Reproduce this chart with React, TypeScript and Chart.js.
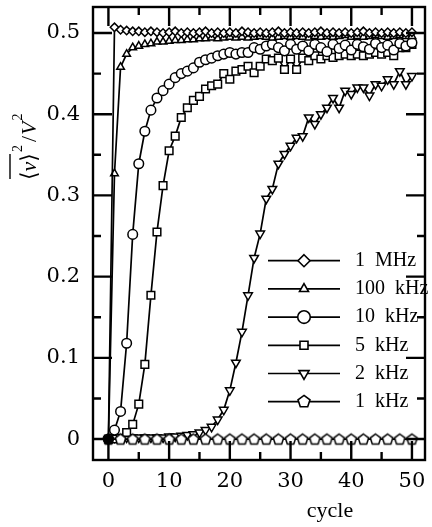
import React, { useEffect, useRef } from "react";
import { Chart, registerables } from "chart.js";

Chart.register(...registerables);

// Cycle index for the 1 MHz … 2 kHz runs (one sample per cycle)
const CYCLES = [
  0, 1, 2, 3, 4, 5, 6, 7, 8, 9,
  10, 11, 12, 13, 14, 15, 16, 17, 18, 19,
  20, 21, 22, 23, 24, 25, 26, 27, 28, 29,
  30, 31, 32, 33, 34, 35, 36, 37, 38, 39,
  40, 41, 42, 43, 44, 45, 46, 47, 48, 49,
  50,
];
// The 1 kHz run is sampled every second cycle
const KHZ1_CYCLES = [0, 2, 4, 6, 8, 10, 12, 14, 16, 18, 20, 22, 24, 26, 28, 30, 32, 34, 36, 38, 40, 42, 44, 46, 48, 50];

const MHZ1 = [
  0, 0.507, 0.504, 0.503, 0.502, 0.502, 0.501, 0.502, 0.501, 0.5,
  0.501, 0.502, 0.5, 0.501, 0.5, 0.501, 0.502, 0.5, 0.501, 0.5,
  0.501, 0.5, 0.502, 0.501, 0.5, 0.501, 0.5, 0.501, 0.502, 0.5,
  0.501, 0.5, 0.501, 0.5, 0.501, 0.502, 0.5, 0.501, 0.5, 0.501,
  0.5, 0.501, 0.502, 0.5, 0.501, 0.5, 0.501, 0.5, 0.501, 0.5,
  0.501,
];
const KHZ100 = [
  0, 0.327, 0.458, 0.474, 0.482, 0.484, 0.486, 0.487, 0.489, 0.489,
  0.49, 0.491, 0.491, 0.492, 0.492, 0.493, 0.493, 0.494, 0.493, 0.494,
  0.495, 0.494, 0.495, 0.494, 0.495, 0.496, 0.495, 0.494, 0.495, 0.496,
  0.495, 0.496, 0.495, 0.494, 0.496, 0.495, 0.496, 0.495, 0.496, 0.497,
  0.495, 0.496, 0.495, 0.496, 0.497, 0.496, 0.495, 0.496, 0.497, 0.496,
  0.496,
];
const KHZ10 = [
  0, 0.011, 0.034, 0.118, 0.252, 0.339, 0.379, 0.405, 0.42, 0.429,
  0.437, 0.445, 0.45, 0.453, 0.457, 0.464, 0.467, 0.469, 0.472, 0.474,
  0.476, 0.474, 0.476, 0.476, 0.482, 0.48, 0.484, 0.486, 0.482, 0.478,
  0.486, 0.48, 0.484, 0.478, 0.486, 0.482, 0.477, 0.486, 0.481, 0.485,
  0.479, 0.486, 0.483, 0.48, 0.487, 0.482, 0.485, 0.479, 0.487, 0.484,
  0.488,
];
const KHZ5 = [
  0, 0, 0.001, 0.008, 0.018, 0.043, 0.092, 0.177, 0.255, 0.312,
  0.355, 0.373, 0.396, 0.408, 0.417, 0.422, 0.431, 0.435, 0.437, 0.45,
  0.443, 0.453, 0.455, 0.459, 0.451, 0.459, 0.468, 0.466, 0.469, 0.455,
  0.468, 0.455, 0.469, 0.466, 0.472, 0.468, 0.472, 0.47, 0.472, 0.474,
  0.472, 0.474, 0.472, 0.474, 0.476, 0.474, 0.476, 0.472, 0.482, 0.482,
  0.486,
];
const KHZ2 = [
  0, 0.002, 0.002, 0.002, 0.002, 0.002, 0.002, 0.002, 0.002, 0.002,
  0.003, 0.003, 0.004, 0.005, 0.006, 0.008, 0.011, 0.015, 0.024, 0.036,
  0.06, 0.094, 0.132, 0.177, 0.223, 0.253, 0.296, 0.308, 0.339, 0.351,
  0.361, 0.371, 0.373, 0.396, 0.388, 0.4, 0.408, 0.42, 0.408, 0.429,
  0.425, 0.433, 0.433, 0.423, 0.437, 0.435, 0.443, 0.437, 0.453, 0.437,
  0.447,
];
const KHZ1 = [0, 0, 0, 0, 0, 0, 0, 0, 0, 0, 0, 0, 0, 0, 0, 0, 0, 0, 0, 0, 0, 0, 0, 0, 0, 0];

const SERIES_LABELS = ["1  MHz", "100  kHz", "10  kHz", "5  kHz", "2  kHz", "1  kHz"];

const X_MAJOR_TICKS = [0, 10, 20, 30, 40, 50];
const X_MINOR_TICKS = [5, 15, 25, 35, 45];
const X_TICK_LABELS = ["0", "10", "20", "30", "40", "50"];
const Y_MAJOR_TICKS = [0, 0.1, 0.2, 0.3, 0.4, 0.5];
const Y_MINOR_TICKS = [0.05, 0.15, 0.25, 0.35, 0.45];
const Y_TICK_LABELS = ["0", "0.1", "0.2", "0.3", "0.4", "0.5"];

const X_TITLE = "cycle";

const SERIF = '"Liberation Serif", "DejaVu Serif", serif';
const TICK_FONT = '"DejaVu Serif", serif';

type Marker = "diamond" | "triUp" | "circle" | "square" | "triDown" | "pentagon";
const MARKERS: Marker[] = ["diamond", "triUp", "circle", "square", "triDown", "pentagon"];

function pentagonPath(ctx: CanvasRenderingContext2D, cx: number, cy: number, r: number) {
  ctx.beginPath();
  for (let k = 0; k < 5; k++) {
    const a = -Math.PI / 2 + (k * 2 * Math.PI) / 5;
    const px = cx + r * Math.cos(a);
    const py = cy + r * Math.sin(a);
    if (k === 0) ctx.moveTo(px, py);
    else ctx.lineTo(px, py);
  }
  ctx.closePath();
}

function makePentagon(r: number, lw: number, fill: string): HTMLCanvasElement {
  const c = document.createElement("canvas");
  const s = Math.ceil(2 * r + lw + 2);
  c.width = s;
  c.height = s;
  const g = c.getContext("2d")!;
  pentagonPath(g, s / 2, s / 2 + 0.5, r);
  g.fillStyle = fill;
  g.fill();
  g.lineWidth = lw;
  g.strokeStyle = "#000";
  g.stroke();
  return c;
}

function drawMarker(ctx: CanvasRenderingContext2D, kind: Marker, x: number, y: number) {
  ctx.beginPath();
  if (kind === "diamond") {
    const r = 6;
    ctx.moveTo(x, y - r);
    ctx.lineTo(x + r, y);
    ctx.lineTo(x, y + r);
    ctx.lineTo(x - r, y);
    ctx.closePath();
  } else if (kind === "triUp" || kind === "triDown") {
    const r = kind === "triUp" ? 5.2 : 5.8;
    const s = kind === "triUp" ? 1 : -1;
    ctx.moveTo(x, y - s * r);
    ctx.lineTo(x + r * 0.866, y + s * r * 0.5);
    ctx.lineTo(x - r * 0.866, y + s * r * 0.5);
    ctx.closePath();
  } else if (kind === "circle") {
    ctx.arc(x, y, 6.3, 0, Math.PI * 2);
  } else if (kind === "square") {
    ctx.rect(x - 4, y - 4, 8, 8);
  } else {
    pentagonPath(ctx, x, y, 6.3);
  }
  ctx.fillStyle = "#fff";
  ctx.fill();
  ctx.stroke();
}

// Frame with inward-pointing ticks on all four sides
const frameTicks = {
  id: "frameTicks",
  afterDatasetsDraw(chart: any) {
    const { ctx, chartArea: a, scales } = chart;
    const xs = scales.x;
    const ys = scales.y;
    ctx.save();
    ctx.strokeStyle = "#000";
    ctx.lineWidth = 2.4;
    ctx.strokeRect(a.left, a.top, a.right - a.left, a.bottom - a.top);
    ctx.beginPath();
    const xt = (v: number, len: number) => {
      const p = xs.getPixelForValue(v);
      ctx.moveTo(p, a.bottom);
      ctx.lineTo(p, a.bottom - len);
      ctx.moveTo(p, a.top);
      ctx.lineTo(p, a.top + len);
    };
    const yt = (v: number, len: number) => {
      const p = ys.getPixelForValue(v);
      ctx.moveTo(a.left, p);
      ctx.lineTo(a.left + len, p);
      ctx.moveTo(a.right, p);
      ctx.lineTo(a.right - len, p);
    };
    X_MAJOR_TICKS.forEach((v) => xt(v, 19));
    X_MINOR_TICKS.forEach((v) => xt(v, 8));
    Y_MAJOR_TICKS.forEach((v) => yt(v, 19));
    Y_MINOR_TICKS.forEach((v) => yt(v, 8));
    ctx.stroke();
    ctx.restore();
  },
};

// Axis titles and the line-through-marker legend
const annotations = {
  id: "annotations",
  afterDraw(chart: any) {
    const { ctx } = chart;
    ctx.save();
    ctx.fillStyle = "#000";
    ctx.strokeStyle = "#000";

    // x title
    ctx.font = `22px ${SERIF}`;
    ctx.textAlign = "center";
    ctx.textBaseline = "alphabetic";
    ctx.fillText(X_TITLE, 330, 517);

    // y title: overline{<v>}^2 / V^2, rotated
    ctx.save();
    ctx.translate(36, 180);
    ctx.rotate(-Math.PI / 2);
    ctx.textAlign = "left";
    let x = 0;
    const put = (t: string, font: string, dy = 0) => {
      ctx.font = font;
      ctx.fillText(t, x, dy);
      x += ctx.measureText(t).width;
    };
    const reg = `22px ${SERIF}`;
    const ital = `italic 22px ${SERIF}`;
    const sup = `14px ${SERIF}`;
    const start = x;
    put("⟨", reg);
    put("v", ital);
    put("⟩", reg);
    const end = x;
    ctx.lineWidth = 1.4;
    ctx.beginPath();
    ctx.moveTo(start + 1, -26);
    ctx.lineTo(end - 1, -26);
    ctx.stroke();
    x += 1;
    put("2", sup, -14);
    x += 3;
    put("/", reg);
    x += 1;
    put("V", ital);
    x += 1;
    put("2", sup, -14);
    ctx.restore();

    // legend
    ctx.lineWidth = 1.7;
    ctx.font = `20px ${SERIF}`;
    ctx.textAlign = "left";
    ctx.textBaseline = "middle";
    SERIES_LABELS.forEach((label, i) => {
      const y = 260.7 + i * 28.2;
      ctx.beginPath();
      ctx.moveTo(268, y);
      ctx.lineTo(340, y);
      ctx.stroke();
      ctx.lineWidth = 1.6;
      drawMarker(ctx, MARKERS[i], 304, y);
      ctx.lineWidth = 1.7;
      ctx.fillStyle = "#000";
      ctx.fillText(label, 355, y);
    });
    ctx.restore();
  },
};

const noScalePadding = (s: any) => {
  s.paddingTop = 0;
  s.paddingBottom = 0;
  s.paddingLeft = 0;
  s.paddingRight = 0;
};

export default function App() {
  const ref = useRef<HTMLCanvasElement | null>(null);

  useEffect(() => {
    const canvas = ref.current;
    if (!canvas) return;

    const pentWhite = makePentagon(5.5, 1.5, "#fff");
    const pentBlack = makePentagon(5.5, 1.5, "#000");

    const pts = (xsArr: number[], ysArr: number[]) => xsArr.map((c, i) => ({ x: c, y: ysArr[i] }));

    const base = {
      borderColor: "#000",
      borderWidth: 1.7,
      pointBorderColor: "#000",
      pointBackgroundColor: "#fff",
      pointBorderWidth: 1.5,
      tension: 0,
      fill: false,
      order: 1,
    };

    const chart = new Chart(canvas, {
      type: "line",
      data: {
        datasets: [
          { ...base, label: SERIES_LABELS[0], data: pts(CYCLES, MHZ1), pointStyle: "rectRot", pointRadius: 4.2 },
          { ...base, label: SERIES_LABELS[1], data: pts(CYCLES, KHZ100), pointStyle: "triangle", pointRadius: 4.4 },
          { ...base, label: SERIES_LABELS[2], data: pts(CYCLES, KHZ10), pointStyle: "circle", pointRadius: 4.8 },
          { ...base, label: SERIES_LABELS[3], data: pts(CYCLES, KHZ5), pointStyle: "rect", pointRadius: 5.4 },
          { ...base, label: SERIES_LABELS[4], data: pts(CYCLES, KHZ2), pointStyle: "triangle", pointRotation: 180, pointRadius: 5 },
          {
            ...base,
            label: SERIES_LABELS[5],
            data: pts(KHZ1_CYCLES, KHZ1),
            pointStyle: KHZ1.map((_, i) => (i === 0 ? pentBlack : pentWhite)),
            pointRadius: 5.5,
            order: 0,
          },
        ] as any,
      },
      options: {
        responsive: false,
        maintainAspectRatio: false,
        animation: false,
        layout: { padding: { left: 0, top: 6, right: 1, bottom: 0 } },
        plugins: {
          legend: { display: false },
          tooltip: { enabled: false },
          title: { display: false },
        },
        scales: {
          x: {
            type: "linear",
            min: -2.54,
            max: 52.15,
            afterBuildTicks: (s: any) => {
              s.ticks = X_MAJOR_TICKS.map((v) => ({ value: v }));
            },
            afterFit: (s: any) => {
              s.height = 67;
              noScalePadding(s);
            },
            ticks: {
              autoSkip: false,
              maxRotation: 0,
              padding: 9,
              color: "#000",
              font: { family: TICK_FONT, size: 21 },
              callback: (_v: any, i: number) => X_TICK_LABELS[i],
            },
            grid: { display: false, drawTicks: false },
            border: { display: false },
          },
          y: {
            type: "linear",
            min: -0.0258,
            max: 0.532,
            afterBuildTicks: (s: any) => {
              s.ticks = Y_MAJOR_TICKS.map((v) => ({ value: v }));
            },
            afterFit: (s: any) => {
              s.width = 93;
              noScalePadding(s);
            },
            ticks: {
              autoSkip: false,
              padding: 13,
              color: "#000",
              font: { family: TICK_FONT, size: 21 },
              callback: (_v: any, i: number) => Y_TICK_LABELS[i],
            },
            grid: { display: false, drawTicks: false },
            border: { display: false },
          },
        },
      } as any,
      plugins: [frameTicks, annotations],
    });

    return () => chart.destroy();
  }, []);

  return (
    <div style={{ position: "fixed", left: 0, top: 0, width: 432, height: 527, background: "#fff" }}>
      <canvas ref={ref} width={432} height={527} style={{ display: "block", width: 432, height: 527 }} />
    </div>
  );
}
